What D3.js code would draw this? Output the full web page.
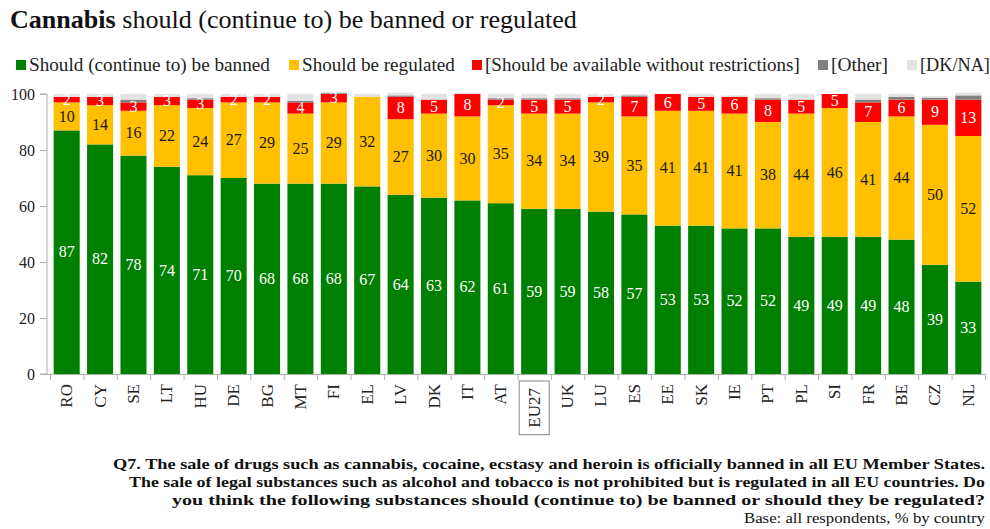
<!DOCTYPE html>
<html>
<head>
<meta charset="utf-8">
<script src="https://cdn.jsdelivr.net/npm/d3@7/dist/d3.min.js"></script>
<style>
  html, body { margin: 0; padding: 0; background: #fff; }
  svg { display: block; font-family: "Liberation Serif", "DejaVu Serif", serif; }
</style>
</head>
<body>
<svg id="chart" width="990" height="529"></svg>
<script>
// Countries, ordered by share saying cannabis should (continue to) be banned
const categories = ["RO","CY","SE","LT","HU","DE","BG","MT","FI","EL","LV","DK","IT","AT",
  "EU27","UK","LU","ES","EE","SK","IE","PT","PL","SI","FR","BE","CZ","NL"];

// Percentages by answer
const banned    = [87,82,78,74,71,70,68,68,68,67,64,63,62,61,59,59,58,57,53,53,52,52,49,49,49,48,39,33];
const regulated = [10,14,16,22,24,27,29,25,29,32,27,30,30,35,34,34,39,35,41,41,41,38,44,46,41,44,50,52];
const available = [2,3,3,3,3,2,2,4,3,0,8,5,8,2,5,5,2,7,6,5,6,8,5,5,7,6,9,13];
const other     = [0,0,1,0,0.5,0,0,0.5,0.3,0,0.5,0,0,0.5,0.5,0.5,0,0.5,0,0,0,0.5,0,0,1,1,0.7,1.5];
const dkna      = [1,1,2,1,1.5,1,1,2.5,0.5,1,1,2,0.5,1.5,1.5,1.5,1,0.5,0,1,0.5,1.5,2,0,2,1,0.5,1];

const seriesNames = ["Should (continue to) be banned", "Should be regulated",
  "[Should be available without restrictions]", "[Other]", "[DK/NA]"];
const yTicks = [0, 20, 40, 60, 80, 100];

const colors = ["#008000", "#ffc000", "#ff0000", "#808080", "#e3e3e3"];
const labelColors = ["#ffffff", "#1a1a1a", "#ffffff", null, null];

const svg = d3.select("#chart");

// Shrinks/grows a text node's font so it spans the given width
function fitWidth(sel, width) {
  const node = sel.node();
  const size = parseFloat(sel.attr("font-size"));
  const w = node.getComputedTextLength();
  sel.attr("font-size", (size * width / w).toFixed(2));
  return sel;
}

// Title
const title = svg.append("text").attr("x", 10).attr("y", 28).attr("font-size", 24).attr("fill", "#111");
title.append("tspan").attr("font-weight", "bold").text("Cannabis");
title.append("tspan").text(" should (continue to) be banned or regulated");
fitWidth(title, 567);

// Legend
const legendX = [16, 289, 472, 818, 907];
const legendW = [241, 153, 315, 57, 70];
seriesNames.forEach((name, i) => {
  svg.append("rect").attr("x", legendX[i]).attr("y", 60).attr("width", 10).attr("height", 10)
    .attr("fill", colors[i]);
  const t = svg.append("text").attr("x", legendX[i] + 13).attr("y", 70.5)
    .attr("font-size", 18).attr("fill", "#222").text(name);
  fitWidth(t, legendW[i]);
});

// Scales
const x = d3.scaleBand().domain(categories).range([50, 985]).paddingInner(0.22).paddingOuter(0.11);
const y = d3.scaleLinear().domain([0, 100]).range([374, 94]);

// Stacked data
const rows = categories.map((c, i) => ({
  cat: c, s0: banned[i], s1: regulated[i], s2: available[i], s3: other[i], s4: dkna[i]
}));
const stack = d3.stack().keys(["s0", "s1", "s2", "s3", "s4"]);
const layers = stack(rows);

const g = svg.append("g");
layers.forEach((layer, li) => {
  g.selectAll(null).data(layer).enter().append("rect")
    .attr("x", d => x(d.data.cat))
    .attr("width", x.bandwidth())
    .attr("y", d => y(d[1]))
    .attr("height", d => Math.max(0, y(d[0]) - y(d[1])))
    .attr("fill", colors[li]);
});

// Value labels for the first three answers
layers.slice(0, 3).forEach((layer, li) => {
  g.selectAll(null).data(layer.filter(d => d[1] - d[0] > 0)).enter().append("text")
    .attr("x", d => x(d.data.cat) + x.bandwidth() / 2)
    .attr("y", d => y((d[0] + d[1]) / 2))
    .attr("dy", "0.33em")
    .attr("text-anchor", "middle")
    .attr("font-size", 16)
    .attr("fill", labelColors[li])
    .text(d => d3.format("d")(d[1] - d[0]));
});

// Y axis
const yAxis = svg.append("g").attr("transform", "translate(47,0)")
  .call(d3.axisLeft(y).tickValues(yTicks).tickSize(7).tickPadding(5).tickFormat(d3.format("d")));
yAxis.select(".domain").attr("stroke", "#b0b0b0").attr("d", "M-7,94H0V374H-7");
yAxis.selectAll(".tick line").attr("stroke", "#b0b0b0");
yAxis.selectAll(".tick text").attr("font-size", 16).attr("fill", "#222")
  .attr("font-family", "Liberation Serif, serif");

// X axis: baseline with ticks between bars
const step = x.step();
svg.append("line").attr("x1", 47).attr("x2", 985).attr("y1", 374.5).attr("y2", 374.5)
  .attr("stroke", "#b0b0b0");
const xTickPos = d3.range(categories.length + 1).map(k => 50 + k * step);
svg.selectAll(null).data(xTickPos).enter().append("line")
  .attr("x1", d => d + 0.5).attr("x2", d => d + 0.5).attr("y1", 374).attr("y2", 380)
  .attr("stroke", "#b0b0b0");

// Country labels, rotated
const xl = svg.append("g");
categories.forEach(c => {
  const cx = x(c) + x.bandwidth() / 2;
  const t = xl.append("text")
    .attr("transform", `translate(${cx + 5.5},${c === "EU27" ? 388 : 384}) rotate(-90)`)
    .attr("text-anchor", "end")
    .attr("font-size", 17)
    .attr("fill", "#222")
    .text(c);
  if (c === "EU27") {
    const w = t.node().getComputedTextLength();
    xl.append("rect").attr("x", cx - 15).attr("y", 381).attr("width", 30).attr("height", w + 14)
      .attr("fill", "none").attr("stroke", "#888").attr("stroke-width", 1);
  }
});

// Question text and base note, stretched to their line widths
const notes = [
  "Q7. The sale of drugs such as cannabis, cocaine, ecstasy and heroin is officially banned in all EU Member States.",
  "The sale of legal substances such as alcohol and tobacco is not prohibited but is regulated in all EU countries. Do",
  "you think the following substances should (continue to) be banned or should they be regulated?"
];
const noteW = [872, 856, 813];
notes.forEach((n, i) => {
  svg.append("text").attr("x", 985).attr("y", 469 + i * 18).attr("text-anchor", "end")
    .attr("font-weight", "bold").attr("font-size", 15.5).attr("fill", "#111")
    .attr("textLength", noteW[i]).attr("lengthAdjust", "spacingAndGlyphs").text(n);
});
svg.append("text").attr("x", 985).attr("y", 523).attr("text-anchor", "end")
  .attr("font-size", 15.5).attr("fill", "#111")
  .attr("textLength", 241).attr("lengthAdjust", "spacingAndGlyphs")
  .text("Base: all respondents, % by country");
</script>
</body>
</html>
